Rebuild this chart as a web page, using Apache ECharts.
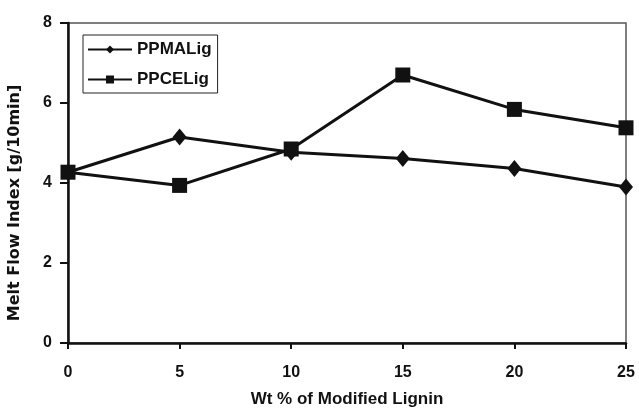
<!DOCTYPE html>
<html>
<head>
<meta charset="utf-8">
<script src="https://cdn.jsdelivr.net/npm/echarts@6/dist/echarts.min.js"></script>
<style>
  html, body { margin: 0; padding: 0; background: #fff; }
  #chart { width: 639px; height: 410px; }
</style>
</head>
<body>
<div id="chart"></div>
<script>
// wt % of modified lignin
var wtPct = [0, 5, 10, 15, 20, 25];
// melt flow index [g/10min]
var ppmaLig = [4.27, 5.15, 4.77, 4.61, 4.36, 3.9];
var ppceLig = [4.27, 3.94, 4.85, 6.7, 5.84, 5.38];

var seriesNames = ['PPMALig', 'PPCELig'];

function pairs(xs, ys) {
  return xs.map(function (x, i) { return [x, ys[i]]; });
}

var myChart = echarts.init(document.getElementById('chart'));
var font = 'Liberation Sans, Arial, sans-serif';
var ink = '#111';

var option = {
  backgroundColor: '#fff',
  animation: false,
  textStyle: { fontFamily: font },
  grid: {
    left: 68, right: 13, top: 23, bottom: 67,
    outerBoundsMode: 'none',
    show: true, borderColor: '#555', borderWidth: 1.5
  },
  legend: {
    orient: 'vertical',
    left: 83, top: 35,
    data: seriesNames,
    borderColor: '#222', borderWidth: 1,
    padding: [6, 6, 5, 4],
    itemGap: 13,
    itemWidth: 44, itemHeight: 10,
    textStyle: { fontFamily: font, fontWeight: 'bold', fontSize: 17, color: ink }
  },
  xAxis: {
    type: 'value',
    min: 0, max: 25, interval: 5,
    name: 'Wt % of Modified Lignin',
    nameLocation: 'middle', nameGap: 48,
    nameTextStyle: { fontFamily: font, fontWeight: 'bold', fontSize: 17, color: ink },
    axisLine: { lineStyle: { color: ink, width: 2.5 } },
    axisTick: { show: true, length: 6, lineStyle: { color: ink, width: 2 } },
    axisLabel: { fontFamily: font, fontWeight: 'bold', fontSize: 16, color: ink, margin: 22 },
    splitLine: { show: false }
  },
  yAxis: {
    type: 'value',
    min: 0, max: 8, interval: 2,
    name: 'Melt Flow Index [g/10min]',
    nameLocation: 'middle', nameGap: 45,
    nameTextStyle: {
      fontFamily: 'DejaVu Sans, sans-serif', fontWeight: 'bold', fontSize: 16, color: ink,
      padding: [0, 40, 0, 0]
    },
    axisLine: { lineStyle: { color: ink, width: 2.5 } },
    axisTick: { show: true, length: 8, lineStyle: { color: ink, width: 2 } },
    axisLabel: { fontFamily: font, fontWeight: 'bold', fontSize: 16, color: ink, margin: 16 },
    splitLine: { show: false }
  },
  series: [{
    name: seriesNames[0],
    type: 'line',
    symbol: 'diamond',
    symbolSize: [14, 17],
    lineStyle: { color: ink, width: 3 },
    itemStyle: { color: ink },
    data: pairs(wtPct, ppmaLig)
  }, {
    name: seriesNames[1],
    type: 'line',
    symbol: 'rect',
    symbolSize: 15,
    lineStyle: { color: ink, width: 3 },
    itemStyle: { color: ink },
    data: pairs(wtPct, ppceLig)
  }]
};
myChart.setOption(option);
</script>
</body>
</html>
